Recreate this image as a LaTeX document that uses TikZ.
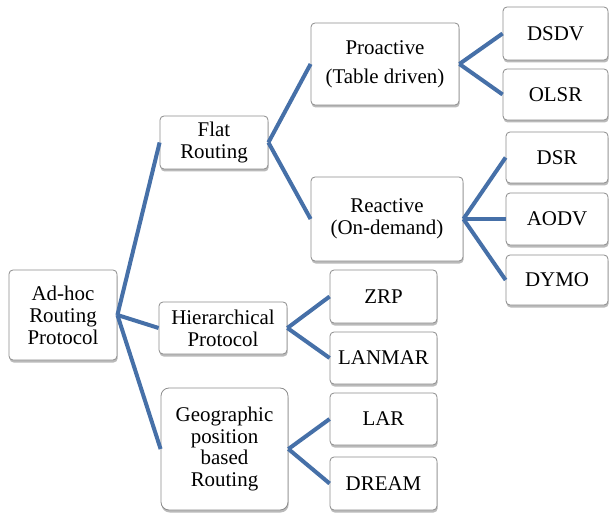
\documentclass[tikz,border=0pt]{standalone}
\usepackage{fontspec}
\setmainfont{Liberation Serif}
\usetikzlibrary{shadows}
\definecolor{connblue}{RGB}{70,112,168}
\definecolor{boxline}{RGB}{140,140,140}
\tikzset{
  box/.style={draw=boxline, line width=0.8bp, fill=white, rounded corners=4bp,
    align=center, inner sep=0pt, font=\fontsize{21}{22}\selectfont,
    drop shadow={shadow xshift=0.6bp, shadow yshift=-2.5bp, fill=black!60, opacity=0.45}},
  conn/.style={draw=connblue, line width=4bp},
}
\begin{document}
\begin{tikzpicture}[x=1bp,y=-1bp]
\useasboundingbox (0,0) rectangle (610,518);
\node[box, minimum width=108bp, minimum height=90bp] (adhoc) at (63,315) {Ad-hoc\\Routing\\Protocol};
\node[box, minimum width=108bp, minimum height=53bp] (flat) at (214,142.5) {Flat\\Routing};
\node[box, minimum width=128bp, minimum height=52bp] (hier) at (223,328) {Hierarchical\\Protocol};
\node[box, minimum width=127bp, minimum height=122bp, rounded corners=8bp] (geo) at (224.5,449) {Geographic\\position\\based\\Routing};
\node[box, minimum width=148bp, minimum height=82bp] (pro) at (385,64) {Proactive\\[7bp](Table driven)};
\node[box, minimum width=152bp, minimum height=84bp] (rea) at (387,219) {Reactive\\(On-demand)};
\node[box, minimum width=105bp, minimum height=53bp] (dsdv) at (555.5,33.5) {DSDV};
\node[box, minimum width=105bp, minimum height=51bp] (olsr) at (555.5,94.5) {OLSR};
\node[box, minimum width=102bp, minimum height=51bp] (dsr) at (557,157.5) {DSR};
\node[box, minimum width=102bp, minimum height=52bp] (aodv) at (557,219) {AODV};
\node[box, minimum width=102bp, minimum height=50bp] (dymo) at (557,280) {DYMO};
\node[box, minimum width=107bp, minimum height=53bp] (zrp) at (383.5,296.5) {ZRP};
\node[box, minimum width=107bp, minimum height=52bp] (lanmar) at (383.5,358) {LANMAR};
\node[box, minimum width=107bp, minimum height=52bp] (lar) at (383.5,419) {LAR};
\node[box, minimum width=107bp, minimum height=53bp] (dream) at (383.5,483.5) {DREAM};
\draw[conn] (adhoc.east) -- (flat.west);
\draw[conn] (adhoc.east) -- (hier.west);
\draw[conn] (adhoc.east) -- (geo.west);
\draw[conn] (flat.east) -- (pro.west);
\draw[conn] (flat.east) -- (rea.west);
\draw[conn] (pro.east) -- (dsdv.west);
\draw[conn] (pro.east) -- (olsr.west);
\draw[conn] (rea.east) -- (dsr.west);
\draw[conn] (rea.east) -- (aodv.west);
\draw[conn] (rea.east) -- (dymo.west);
\draw[conn] (hier.east) -- (zrp.west);
\draw[conn] (hier.east) -- (lanmar.west);
\draw[conn] (geo.east) -- (lar.west);
\draw[conn] (geo.east) -- (dream.west);
\end{tikzpicture}
\end{document}
